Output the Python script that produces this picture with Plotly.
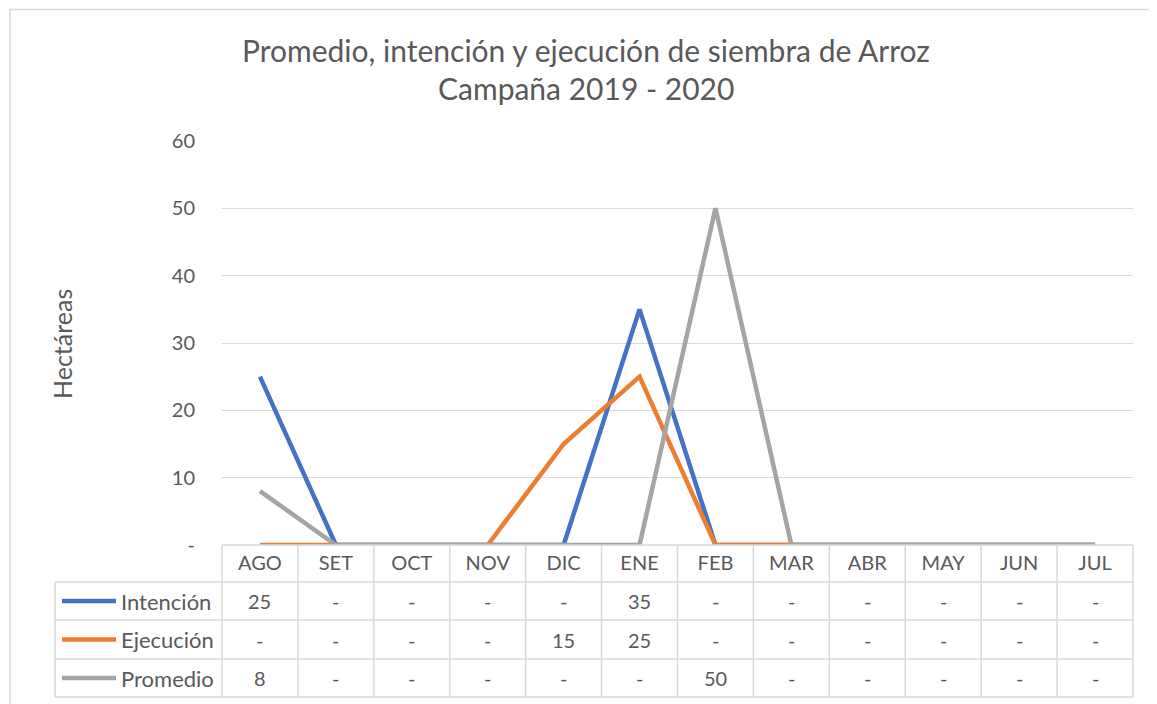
import plotly.graph_objects as go

# ---------------- data ----------------
meses = ["AGO", "SET", "OCT", "NOV", "DIC", "ENE", "FEB", "MAR", "ABR", "MAY", "JUN", "JUL"]
intencion = [25, 0, 0, 0, 0, 35, 0, 0, 0, 0, 0, 0]
ejecucion = [0, 0, 0, 0, 15, 25, 0, 0, 0, 0, 0, 0]
promedio = [8, 0, 0, 0, 0, 0, 50, 0, 0, 0, 0, 0]
series_names = ["Intención", "Ejecución", "Promedio"]
y_tickvals = [0, 10, 20, 30, 40, 50, 60]
y_ticktext = ["-", "10", "20", "30", "40", "50", "60"]
titulo_1 = "Promedio, intención y ejecución de siembra de Arroz"
titulo_2 = "Campaña 2019 - 2020"
eje_y = "Hectáreas"

# ---------------- style ----------------
colors = ["#4472C4", "#ED7D31", "#A5A5A5"]
FONT = "Lato"
TXT = "#595959"
GRID = "#D9D9D9"
OFF = 8                      # page body margin
W, H = 1157 - OFF, 704 - OFF
L, R, T, B = 222, 1133, 141, 545  # plot area in page px


def yp(p):
    return (B - p) / (B - T)


def xp(p):
    return (p - L) / (R - L)


series = [intencion, ejecucion, promedio]

fig = go.Figure()
for name, vals, c in zip(series_names, series, colors):
    fig.add_trace(go.Scatter(x=meses, y=vals, mode="lines", name=name,
                             line=dict(color=c, width=4.5)))

shapes = []
n = len(meses)
row_lines = [582, 620, 659, 697]
# horizontal table lines
shapes.append(dict(type="line", xref="paper", yref="paper", x0=0, x1=1,
                   y0=yp(B), y1=yp(B), line=dict(color=GRID, width=1.5)))
for ry in row_lines:
    shapes.append(dict(type="line", xref="paper", yref="paper", x0=xp(55), x1=1,
                       y0=yp(ry), y1=yp(ry), line=dict(color=GRID, width=1.5)))
# vertical table lines
for i in range(n + 1):
    shapes.append(dict(type="line", xref="x domain", yref="paper", x0=i / n, x1=i / n,
                       y0=yp(B), y1=yp(697), line=dict(color=GRID, width=1.5)))
shapes.append(dict(type="line", xref="paper", yref="paper", x0=xp(55), x1=xp(55),
                   y0=yp(582), y1=yp(697), line=dict(color=GRID, width=1.5)))
# outer chart border
shapes.append(dict(type="rect", xref="paper", yref="paper", x0=xp(10), x1=xp(1175),
                   y0=yp(720), y1=yp(9.5), line=dict(color=GRID, width=1.5)))

annotations = []
row_centers = [601, 639.5, 678]
for name, vals, c, rc in zip(series_names, series, colors, row_centers):
    shapes.append(dict(type="line", xref="paper", yref="paper", x0=xp(62), x1=xp(116),
                       y0=yp(rc), y1=yp(rc), line=dict(color=c, width=4.5)))
    annotations.append(dict(text=name, xref="paper", yref="paper", x=xp(119), y=yp(rc),
                            xanchor="left", yanchor="middle", showarrow=False,
                            font=dict(family=FONT, size=22, color=TXT)))
    for m, v in zip(meses, vals):
        annotations.append(dict(text="-" if v == 0 else str(v), xref="x", yref="paper",
                                x=m, y=yp(rc), xanchor="center", yanchor="middle",
                                showarrow=False, font=dict(family=FONT, size=20, color=TXT)))

annotations.append(dict(text=titulo_1, xref="paper", yref="paper", x=xp(586), y=yp(50),
                        xanchor="center", yanchor="middle", showarrow=False,
                        font=dict(family=FONT, size=30, color=TXT)))
annotations.append(dict(text=titulo_2, xref="paper", yref="paper", x=xp(586), y=yp(88),
                        xanchor="center", yanchor="middle", showarrow=False,
                        font=dict(family=FONT, size=30, color=TXT)))
annotations.append(dict(text=eje_y, xref="paper", yref="paper", x=xp(62), y=yp(344),
                        xanchor="center", yanchor="middle", textangle=-90, showarrow=False,
                        font=dict(family=FONT, size=25, color=TXT)))

fig.update_layout(
    width=W, height=H,
    margin=dict(l=L - OFF, r=W - (R - OFF), t=T - OFF, b=H - (B - OFF), pad=0),
    paper_bgcolor="white", plot_bgcolor="white",
    showlegend=False,
    font=dict(family=FONT, color=TXT),
    xaxis=dict(type="category", range=[-0.5, n - 0.5], showgrid=False, zeroline=False,
               showline=False, ticks="", tickfont=dict(family=FONT, size=20, color=TXT),
               ticklabelstandoff=4),
    yaxis=dict(range=[0, 60], tickvals=y_tickvals, ticktext=y_ticktext, showgrid=True,
               gridcolor=GRID, gridwidth=1.3, zeroline=False, showline=False, ticks="",
               tickfont=dict(family=FONT, size=20, color=TXT), ticklabelstandoff=26),
    shapes=shapes,
    annotations=annotations,
)

fig.write_html("out.html")
